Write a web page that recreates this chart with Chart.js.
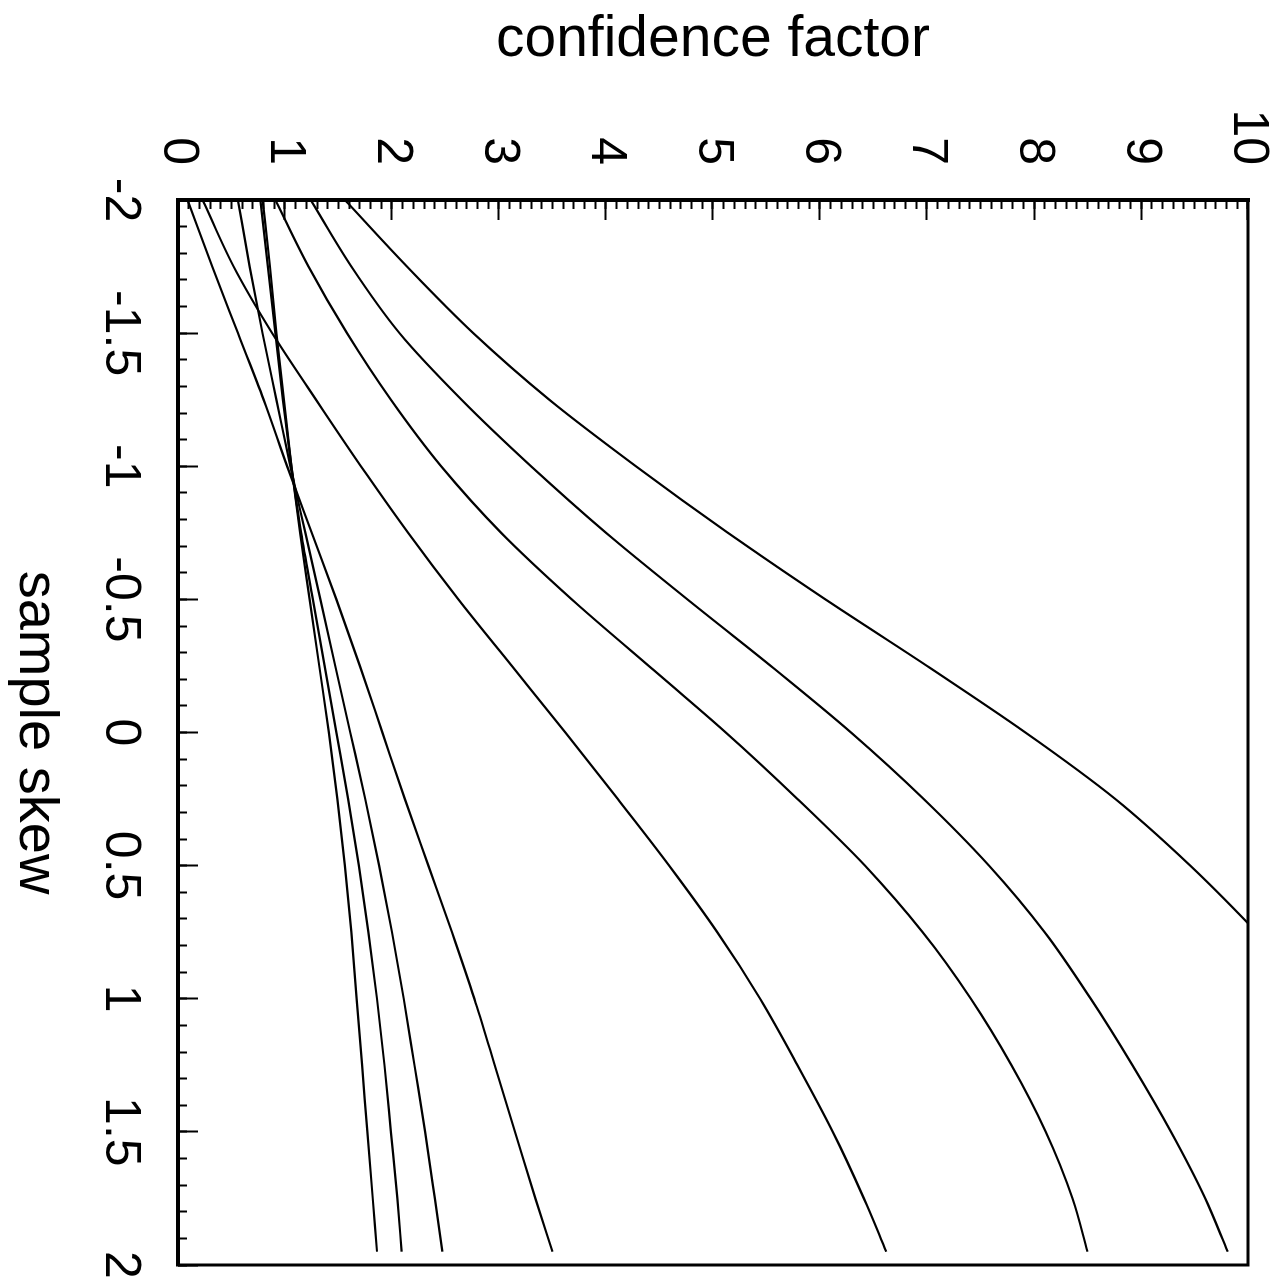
<!DOCTYPE html>
<html>
<head>
<meta charset="utf-8">
<title>confidence factor vs sample skew</title>
<script src="https://cdn.jsdelivr.net/npm/chart.js@4.4.1/dist/chart.umd.min.js"></script>
<style>
  html, body { margin: 0; padding: 0; background: #fff; overflow: hidden; }
  /* the plot was printed landscape and turned a quarter turn on the page */
  #wrap {
    position: absolute; left: 0; top: 0;
    width: 1288px; height: 1282px;
    transform-origin: 0 0;
    transform: translate(1282px, 0) rotate(90deg);
  }
</style>
</head>
<body>
<div id="wrap"><canvas id="chart" width="1288" height="1282"></canvas></div>
<script>
// sample skew at which each curve was read
const skew = [-2, -1.75, -1.5, -1.25, -1, -0.75, -0.5, -0.25, 0, 0.25, 0.5, 0.75, 1, 1.25, 1.5, 1.75, 1.95];

// confidence factor curves, top one leaves the plot past 10
const curveA = [1.56, 2.14, 2.76, 3.47, 4.28, 5.14, 6.05, 7.00, 7.92, 8.76, 9.46, 10.08, 10.65, null, null, null, null];
const curveB = [1.24, 1.62, 2.07, 2.65, 3.30, 4.00, 4.76, 5.54, 6.29, 6.97, 7.58, 8.10, 8.53, 8.92, 9.28, 9.60, 9.81];
const curveC = [0.91, 1.22, 1.58, 1.99, 2.46, 3.02, 3.68, 4.40, 5.12, 5.79, 6.42, 6.96, 7.41, 7.79, 8.11, 8.36, 8.50];
const curveD = [0.23, 0.52, 0.88, 1.29, 1.71, 2.15, 2.62, 3.12, 3.62, 4.11, 4.59, 5.04, 5.44, 5.79, 6.12, 6.41, 6.62];
const curveE = [0.09, 0.32, 0.56, 0.80, 1.02, 1.25, 1.48, 1.70, 1.91, 2.12, 2.34, 2.56, 2.77, 2.96, 3.15, 3.34, 3.50];
const curveF = [0.56, 0.67, 0.79, 0.92, 1.05, 1.19, 1.33, 1.47, 1.61, 1.75, 1.88, 2.00, 2.11, 2.21, 2.31, 2.40, 2.47];
const curveG = [0.77, 0.84, 0.91, 0.98, 1.06, 1.15, 1.26, 1.37, 1.48, 1.59, 1.69, 1.78, 1.86, 1.93, 1.99, 2.05, 2.09];
const curveH = [0.79, 0.86, 0.92, 0.99, 1.06, 1.14, 1.23, 1.32, 1.41, 1.49, 1.56, 1.62, 1.67, 1.72, 1.77, 1.82, 1.86];

const curves = [curveA, curveB, curveC, curveD, curveE, curveF, curveG, curveH];

const FONT = "'Liberation Sans', Arial, Helvetica, sans-serif";

// top + right edges of the box (left/bottom come from the axes' borders)
const framePlugin = {
    id: 'frame',
    afterDraw(chart) {
        const { ctx, chartArea: a } = chart;
        ctx.save();
        ctx.strokeStyle = '#000';
        ctx.lineWidth = 3;
        ctx.beginPath();
        ctx.moveTo(a.left, a.top);
        ctx.lineTo(a.right, a.top);
        ctx.lineTo(a.right, a.bottom);
        ctx.stroke();
        ctx.restore();
    }
};

const datasets = curves.map((vals, i) => ({
    label: 'curve ' + (i + 1),
    data: skew.map((s, j) => ({ x: s, y: vals[j] })),
    borderColor: '#000',
    borderWidth: 2.2,
    pointRadius: 0,
    fill: false,
    cubicInterpolationMode: 'monotone',
    spanGaps: false
}));

// plain numbers on the ticks: -2, -1.5 ... 2
const plainTick = (v) => String(Number(v.toFixed(1)));

new Chart(document.getElementById('chart'), {
    type: 'line',
    data: { datasets: datasets },
    options: {
        responsive: false,
        animation: false,
        layout: { padding: { top: 34, right: 23, left: 0, bottom: 0 } },
        plugins: {
            legend: { display: false },
            tooltip: { enabled: false },
            title: { display: false }
        },
        scales: {
            x: {
                type: 'linear',
                position: 'bottom',
                weight: 1,
                min: -2,
                max: 2,
                ticks: {
                    stepSize: 0.5,
                    autoSkip: false,
                    maxRotation: 0,
                    minRotation: 0,
                    padding: 53,
                    color: '#000',
                    font: { family: FONT, size: 50, lineHeight: 1 },
                    callback: plainTick
                },
                grid: { drawOnChartArea: false, tickLength: -20, tickWidth: 2, tickColor: '#000' },
                border: { display: true, color: '#000', width: 4 },
                title: {
                    display: true,
                    text: 'sample skew',
                    color: '#000',
                    font: { family: FONT, size: 56, lineHeight: 1 },
                    padding: { top: 0, bottom: 7 }
                },
                afterFit: (scale) => {
                    scale.height = 178;
                    scale.paddingLeft = 0;
                    scale.paddingRight = 0;
                }
            },
            xMinor: {
                type: 'linear',
                position: 'bottom',
                weight: 0,
                min: -2,
                max: 2,
                ticks: { display: false, stepSize: 0.1, autoSkip: false },
                grid: { drawOnChartArea: false, tickLength: -9, tickWidth: 2, tickColor: '#000' },
                border: { display: false },
                afterFit: (scale) => { scale.height = 0; }
            },
            y: {
                type: 'linear',
                position: 'left',
                weight: 1,
                min: 0,
                max: 10,
                ticks: {
                    stepSize: 1,
                    autoSkip: false,
                    padding: 55,
                    color: '#000',
                    font: { family: FONT, size: 50, lineHeight: 1 },
                    callback: plainTick
                },
                grid: { drawOnChartArea: false, tickLength: -20, tickWidth: 2, tickColor: '#000' },
                border: { display: true, color: '#000', width: 4 },
                title: {
                    display: true,
                    text: 'confidence factor',
                    color: '#000',
                    font: { family: FONT, size: 57, lineHeight: 1 },
                    padding: { top: 12, bottom: 0 }
                },
                afterFit: (scale) => {
                    scale.width = 200;
                    scale.paddingTop = 0;
                    scale.paddingBottom = 0;
                }
            },
            yMinor: {
                type: 'linear',
                position: 'left',
                weight: 0,
                min: 0,
                max: 10,
                ticks: { display: false, stepSize: 0.1, autoSkip: false },
                grid: { drawOnChartArea: false, tickLength: -9, tickWidth: 2, tickColor: '#000' },
                border: { display: false },
                afterFit: (scale) => { scale.width = 0; }
            }
        }
    },
    plugins: [framePlugin]
});
</script>
</body>
</html>
